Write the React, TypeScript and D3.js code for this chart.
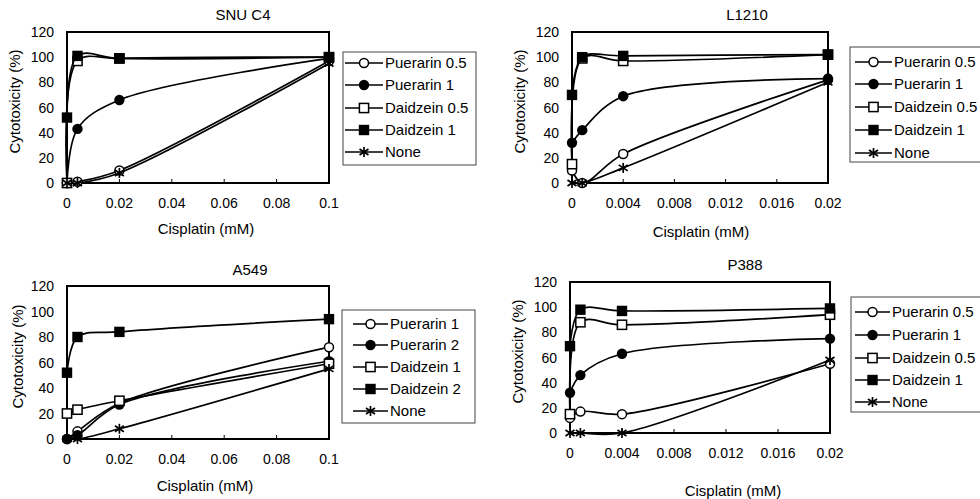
import React from "react";
import * as d3 from "d3";

// ---------- DATA ----------
const xWide = [0, 0.004, 0.02, 0.1];
const xNarrow = [0, 0.0008, 0.004, 0.02];
const xTicksWide = [0, 0.02, 0.04, 0.06, 0.08, 0.1];
const xTickLabelsWide = ["0", "0.02", "0.04", "0.06", "0.08", "0.1"];
const xTicksNarrow = [0, 0.004, 0.008, 0.012, 0.016, 0.02];
const xTickLabelsNarrow = ["0", "0.004", "0.008", "0.012", "0.016", "0.02"];
const yTicks = [0, 20, 40, 60, 80, 100, 120];

const titles = ["SNU C4", "L1210", "A549", "P388"];
const legendA = ["Puerarin 0.5", "Puerarin 1", "Daidzein 0.5", "Daidzein 1", "None"];
const legendB = ["Puerarin 1", "Puerarin 2", "Daidzein 1", "Daidzein 2", "None"];
const markers = ["openCircle", "filledCircle", "openSquare", "filledSquare", "star"];

// SNU C4
const snuPuerarinLow = [0, 1, 10, 97];
const snuPuerarinHigh = [0, 43, 66, 99];
const snuDaidzeinLow = [0, 97, 99, 100];
const snuDaidzeinHigh = [52, 101, 99, 100];
const snuNone = [0, 0, 8, 95];
// L1210
const l1210PuerarinLow = [10, 0, 23, 82];
const l1210PuerarinHigh = [32, 42, 69, 83];
const l1210DaidzeinLow = [15, 99, 97, 102];
const l1210DaidzeinHigh = [70, 100, 101, 102];
const l1210None = [0, 0, 12, 80];
// A549
const a549PuerarinLow = [0, 6, 28, 72];
const a549PuerarinHigh = [0, 3, 27, 61];
const a549DaidzeinLow = [20, 23, 30, 59];
const a549DaidzeinHigh = [52, 80, 84, 94];
const a549None = [0, 0, 8, 55];
// P388
const p388PuerarinLow = [12, 17, 15, 55];
const p388PuerarinHigh = [32, 46, 63, 75];
const p388DaidzeinLow = [15, 88, 86, 94];
const p388DaidzeinHigh = [69, 98, 97, 99];
const p388None = [0, 0, 0, 58];

// ---------- LAYOUT ----------
const panels = [
  {
    title: titles[0], xs: xWide, xMax: 0.1, ticks: xTicksWide, tickLabels: xTickLabelsWide,
    series: [snuPuerarinLow, snuPuerarinHigh, snuDaidzeinLow, snuDaidzeinHigh, snuNone],
    legend: legendA,
    box: { left: 67, right: 329, top: 32, bottom: 183 },
    titlePos: [243, 20], yTitleX: 16, xTitlePos: [206, 234],
    leg: { x0: 343, x1: 476, y0: 52, y1: 165, lx0: 345, lx1: 383, rows: [63, 85, 108, 130, 152] },
  },
  {
    title: titles[1], xs: xNarrow, xMax: 0.02, ticks: xTicksNarrow, tickLabels: xTickLabelsNarrow,
    series: [l1210PuerarinLow, l1210PuerarinHigh, l1210DaidzeinLow, l1210DaidzeinHigh, l1210None],
    legend: legendA,
    box: { left: 572, right: 828, top: 32, bottom: 183 },
    titlePos: [747, 20], yTitleX: 521, xTitlePos: [701, 237],
    leg: { x0: 850, x1: 986, y0: 47, y1: 162, lx0: 855, lx1: 892, rows: [62, 84, 107, 130, 153] },
  },
  {
    title: titles[2], xs: xWide, xMax: 0.1, ticks: xTicksWide, tickLabels: xTickLabelsWide,
    series: [a549PuerarinLow, a549PuerarinHigh, a549DaidzeinLow, a549DaidzeinHigh, a549None],
    legend: legendB,
    box: { left: 67, right: 329, top: 286, bottom: 439 },
    titlePos: [250, 275], yTitleX: 19, xTitlePos: [205, 491],
    leg: { x0: 342, x1: 475, y0: 310, y1: 423, lx0: 353, lx1: 388, rows: [324, 345, 367, 389, 411] },
  },
  {
    title: titles[3], xs: xNarrow, xMax: 0.02, ticks: xTicksNarrow, tickLabels: xTickLabelsNarrow,
    series: [p388PuerarinLow, p388PuerarinHigh, p388DaidzeinLow, p388DaidzeinHigh, p388None],
    legend: legendA,
    box: { left: 570, right: 830, top: 282, bottom: 433 },
    titlePos: [745, 270], yTitleX: 519, xTitlePos: [733, 496],
    leg: { x0: 851, x1: 986, y0: 297, y1: 412, lx0: 855, lx1: 890, rows: [312, 335, 358, 380, 402] },
  },
];

const FONT = "'Liberation Sans', Arial, Helvetica, sans-serif";
const FS = 15;
const FS_TICK = 14;

function Marker({ kind, x, y }: { kind: string; x: number; y: number }) {
  switch (kind) {
    case "openCircle":
      return <circle cx={x} cy={y} r={4.5} fill="#fff" stroke="#000" strokeWidth={1.5} />;
    case "filledCircle":
      return <circle cx={x} cy={y} r={5.2} fill="#000" />;
    case "openSquare":
      return <rect x={x - 4.6} y={y - 4.6} width={9.2} height={9.2} fill="#fff" stroke="#000" strokeWidth={1.5} />;
    case "filledSquare":
      return <rect x={x - 5.2} y={y - 5.2} width={10.4} height={10.4} fill="#000" />;
    default: {
      const s = 5;
      return (
        <g stroke="#000" strokeWidth={1.7}>
          <line x1={x} y1={y - s} x2={x} y2={y + s} />
          <line x1={x - s * 0.9} y1={y - s * 0.6} x2={x + s * 0.9} y2={y + s * 0.6} />
          <line x1={x - s * 0.9} y1={y + s * 0.6} x2={x + s * 0.9} y2={y - s * 0.6} />
        </g>
      );
    }
  }
}

function Panel({ p }: { p: (typeof panels)[number] }) {
  const { box, leg } = p;
  const x = d3.scaleLinear().domain([0, p.xMax]).range([box.left, box.right]);
  const y = d3.scaleLinear().domain([0, 120]).range([box.bottom, box.top]);
  const line = d3
    .line<[number, number]>()
    .x((d) => x(d[0]))
    .y((d) => y(d[1]))
    .curve(d3.curveCatmullRom.alpha(0.5));
  const cy = (box.top + box.bottom) / 2 - 6;
  return (
    <g fontFamily={FONT} fontSize={FS} fill="#000">
      <text x={p.titlePos[0]} y={p.titlePos[1]} textAnchor="middle">{p.title}</text>
      {yTicks.map((t) => (
        <text key={t} x={box.left - 13} y={y(t) + 5} textAnchor="end" fontSize={FS_TICK}>{t}</text>
      ))}
      {p.ticks.map((t, i) => (
        <g key={i}>
          <line x1={x(t)} x2={x(t)} y1={box.bottom} y2={box.bottom - 4} stroke="#000" strokeWidth={1} />
          <text x={x(t)} y={box.bottom + 25} textAnchor="middle" fontSize={FS_TICK}>{p.tickLabels[i]}</text>
        </g>
      ))}
      <text transform={`translate(${p.yTitleX},${cy}) rotate(-90)`} textAnchor="middle" dy={4}>
        Cytotoxicity (%)
      </text>
      <text x={p.xTitlePos[0]} y={p.xTitlePos[1]} textAnchor="middle">Cisplatin (mM)</text>
      <rect
        x={box.left}
        y={box.top}
        width={box.right - box.left}
        height={box.bottom - box.top}
        fill="none"
        stroke="#000"
        strokeWidth={2}
      />
      {p.series.map((vals, si) => {
        const pts = p.xs.map((xv, i) => [xv, vals[i]] as [number, number]);
        return (
          <g key={si}>
            <path d={line(pts) || ""} fill="none" stroke="#000" strokeWidth={1.7} />
            {pts.map((d, i) => (
              <Marker key={i} kind={markers[si]} x={x(d[0])} y={y(d[1])} />
            ))}
          </g>
        );
      })}
      <rect x={leg.x0} y={leg.y0} width={leg.x1 - leg.x0} height={leg.y1 - leg.y0} fill="#fff" stroke="#444" strokeWidth={1} />
      {p.legend.map((name, i) => {
        const ry = leg.rows[i];
        return (
          <g key={name}>
            <line x1={leg.lx0} x2={leg.lx1} y1={ry} y2={ry} stroke="#000" strokeWidth={1.7} />
            <Marker kind={markers[i]} x={(leg.lx0 + leg.lx1) / 2} y={ry} />
            <text x={leg.lx1 + 2} y={ry + 5}>{name}</text>
          </g>
        );
      })}
    </g>
  );
}

export default function App() {
  return (
    <svg width={980} height={499} style={{ position: "absolute", left: 0, top: 0, background: "#fff" }}>
      <rect width={980} height={499} fill="#fff" />
      {panels.map((p, i) => (
        <Panel key={i} p={p} />
      ))}
    </svg>
  );
}
